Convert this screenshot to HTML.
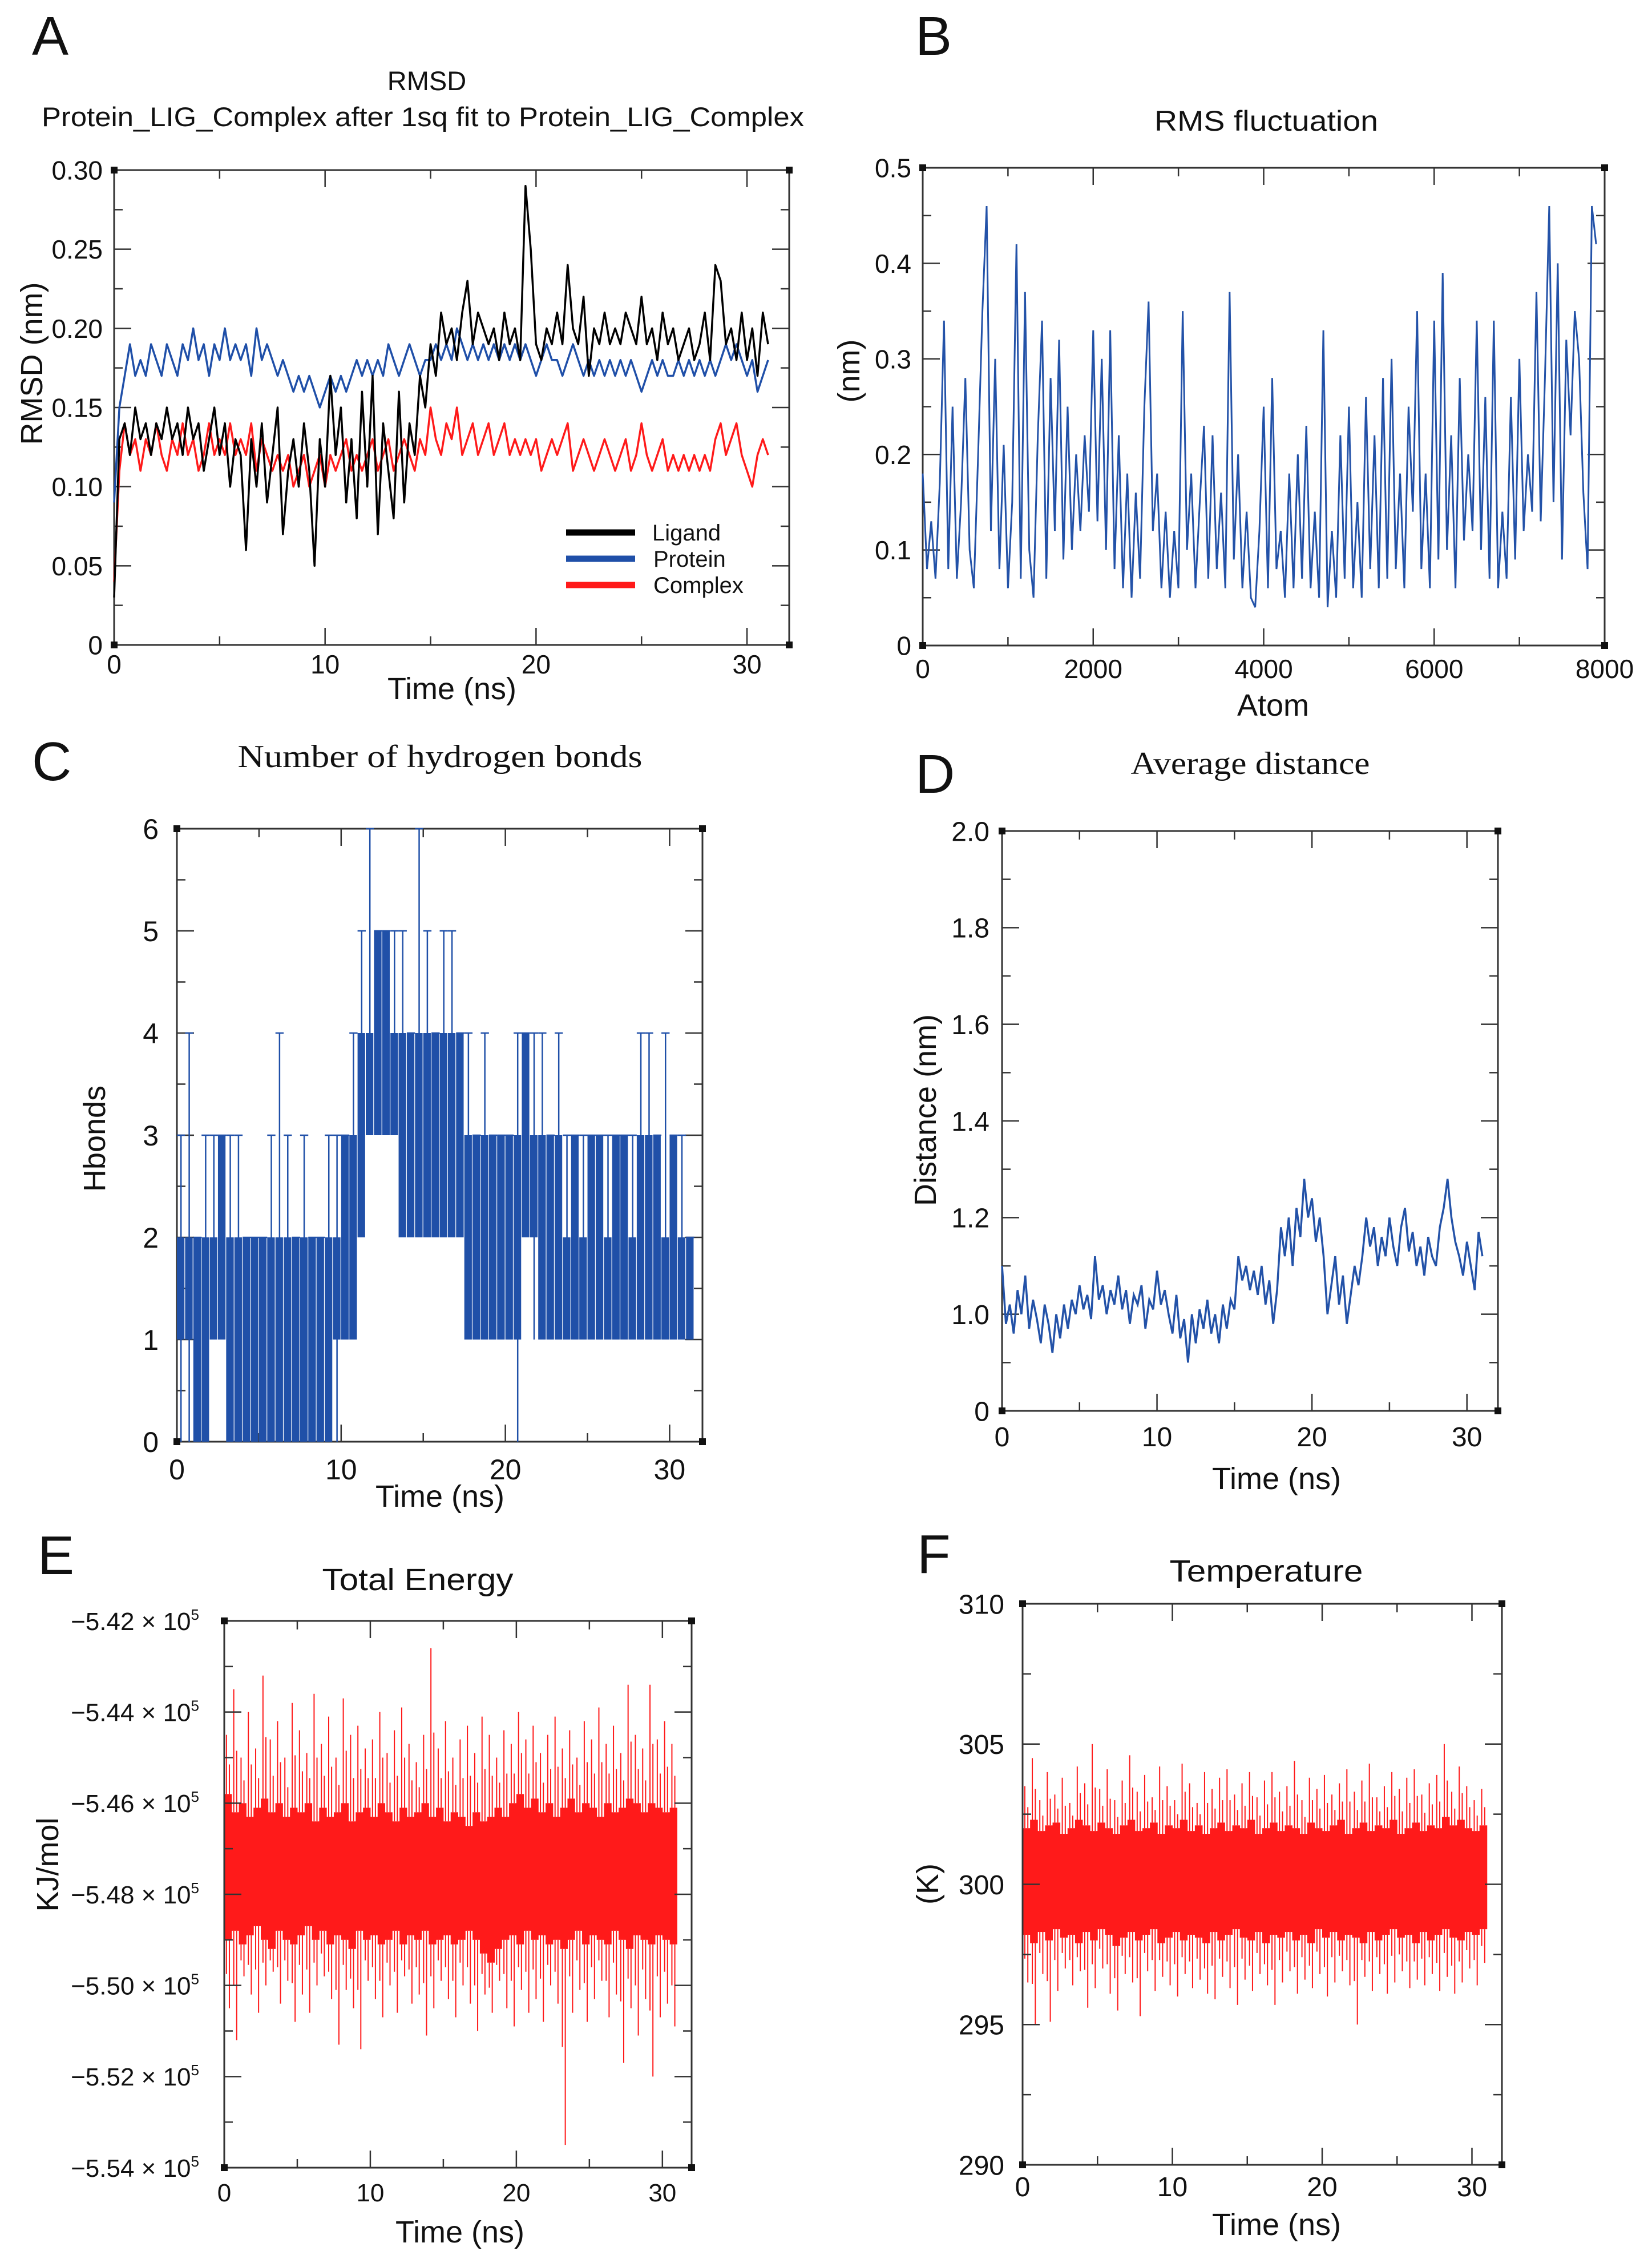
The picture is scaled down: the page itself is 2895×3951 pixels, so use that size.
<!DOCTYPE html>
<html><head><meta charset="utf-8">
<style>
html,body{margin:0;padding:0;background:#fff;}
svg{display:block;}
text{font-family:"Liberation Sans","DejaVu Sans",sans-serif;fill:#111;}
.serif{font-family:"Liberation Serif","DejaVu Serif",serif;}
</style></head>
<body>
<svg id="fig" width="2895" height="3951" viewBox="0 0 2895 3951" xmlns="http://www.w3.org/2000/svg">
  <rect x="0" y="0" width="2895" height="3951" fill="#fff"/>
  <!-- panel letters -->
  <text x="56" y="96" font-size="96">A</text>
  <text x="1604" y="96" font-size="96">B</text>
  <text x="56" y="1367" font-size="96">C</text>
  <text x="1604" y="1389" font-size="96">D</text>
  <text x="66" y="2758" font-size="96">E</text>
  <text x="1607" y="2756" font-size="96">F</text>
  <!-- titles -->
  <text x="748" y="158" font-size="47" text-anchor="middle">RMSD</text>
  <text x="741" y="221" font-size="47" text-anchor="middle" textLength="1336" lengthAdjust="spacingAndGlyphs">Protein_LIG_Complex after 1sq fit to Protein_LIG_Complex</text>
  <text x="2219" y="229" font-size="50" text-anchor="middle" textLength="392" lengthAdjust="spacingAndGlyphs">RMS fluctuation</text>
  <text class="serif" x="771" y="1344" font-size="56" text-anchor="middle" textLength="709" lengthAdjust="spacingAndGlyphs">Number of hydrogen bonds</text>
  <text class="serif" x="2191" y="1356" font-size="56" text-anchor="middle" textLength="419" lengthAdjust="spacingAndGlyphs">Average distance</text>
  <text x="732" y="2786" font-size="54" text-anchor="middle" textLength="335" lengthAdjust="spacingAndGlyphs">Total Energy</text>
  <text x="2219" y="2771" font-size="54" text-anchor="middle" textLength="339" lengthAdjust="spacingAndGlyphs">Temperature</text>
  <!-- axis titles -->
  <text x="792" y="1225" font-size="54" text-anchor="middle">Time (ns)</text>
  <text transform="translate(74,637) rotate(-90)" font-size="54" text-anchor="middle">RMSD (nm)</text>
  <text x="2231" y="1254" font-size="54" text-anchor="middle">Atom</text>
  <text transform="translate(1506,650) rotate(-90)" font-size="54" text-anchor="middle">(nm)</text>
  <text x="771" y="2640" font-size="54" text-anchor="middle">Time (ns)</text>
  <text transform="translate(184,1995) rotate(-90)" font-size="54" text-anchor="middle">Hbonds</text>
  <text x="2237" y="2609" font-size="54" text-anchor="middle">Time (ns)</text>
  <text transform="translate(1640,1945) rotate(-90)" font-size="54" text-anchor="middle">Distance (nm)</text>
  <text x="806" y="3929" font-size="54" text-anchor="middle">Time (ns)</text>
  <text transform="translate(102,3267) rotate(-90)" font-size="54" text-anchor="middle">KJ/mol</text>
  <text x="2237" y="3916" font-size="54" text-anchor="middle">Time (ns)</text>
  <text transform="translate(1644,3301) rotate(-90)" font-size="54" text-anchor="middle">(K)</text>
  <!-- legend A -->
  <g>
    <line x1="992" y1="933" x2="1113" y2="933" stroke="#000" stroke-width="11"/>
    <text x="1143" y="947" font-size="40">Ligand</text>
    <line x1="992" y1="979" x2="1113" y2="979" stroke="#1f4fa8" stroke-width="11"/>
    <text x="1145" y="993" font-size="40">Protein</text>
    <line x1="992" y1="1025" x2="1113" y2="1025" stroke="#ff1a1a" stroke-width="11"/>
    <text x="1145" y="1039" font-size="40">Complex</text>
  </g>
</svg>
<script>
// ---------- Panel A: RMSD (t step 0.25 ns) ----------
const rmsdTimeStep = 0.25;
const ligandRmsd = [0.03,0.13,0.14,0.12,0.15,0.13,0.14,0.12,0.14,0.13,0.15,0.13,
0.14,0.12,0.15,0.13,0.14,0.11,0.13,0.15,0.12,0.14,0.10,0.13,
0.12,0.06,0.13,0.10,0.14,0.09,0.12,0.15,0.07,0.11,0.13,0.10,
0.14,0.11,0.05,0.13,0.10,0.17,0.12,0.15,0.09,0.13,0.08,0.16,
0.10,0.17,0.07,0.14,0.11,0.08,0.16,0.09,0.14,0.12,0.17,0.15,
0.19,0.17,0.21,0.19,0.20,0.18,0.21,0.23,0.19,0.21,0.20,0.19,
0.20,0.18,0.21,0.19,0.20,0.18,0.29,0.25,0.19,0.18,0.20,0.19,
0.21,0.19,0.24,0.20,0.19,0.22,0.17,0.20,0.19,0.21,0.19,0.20,
0.19,0.21,0.20,0.19,0.22,0.19,0.20,0.18,0.21,0.19,0.20,0.18,
0.19,0.20,0.18,0.19,0.21,0.18,0.24,0.23,0.19,0.20,0.18,0.21,
0.18,0.20,0.17,0.21,0.19];
const proteinRmsd = [0.09,0.15,0.17,0.19,0.17,0.18,0.17,0.19,0.18,0.17,0.19,0.18,
0.17,0.19,0.18,0.20,0.18,0.19,0.17,0.19,0.18,0.20,0.18,0.19,
0.18,0.19,0.17,0.20,0.18,0.19,0.18,0.17,0.18,0.17,0.16,0.17,
0.16,0.17,0.16,0.15,0.16,0.17,0.16,0.17,0.16,0.17,0.18,0.17,
0.18,0.17,0.18,0.17,0.19,0.18,0.17,0.18,0.19,0.18,0.17,0.18,
0.18,0.19,0.18,0.19,0.18,0.20,0.19,0.18,0.19,0.18,0.19,0.18,
0.19,0.18,0.19,0.18,0.19,0.18,0.19,0.18,0.17,0.18,0.19,0.18,
0.18,0.17,0.18,0.19,0.18,0.17,0.18,0.17,0.18,0.17,0.18,0.17,
0.18,0.17,0.18,0.17,0.16,0.17,0.18,0.17,0.18,0.17,0.17,0.18,
0.17,0.18,0.17,0.18,0.17,0.18,0.17,0.18,0.19,0.18,0.19,0.18,
0.17,0.18,0.16,0.17,0.18];
const complexRmsd = [0.04,0.11,0.14,0.12,0.13,0.11,0.13,0.12,0.14,0.12,0.11,0.13,
0.12,0.14,0.12,0.13,0.11,0.12,0.14,0.12,0.13,0.12,0.14,0.12,
0.13,0.12,0.14,0.11,0.13,0.12,0.11,0.12,0.11,0.12,0.10,0.11,
0.12,0.10,0.11,0.12,0.10,0.12,0.11,0.12,0.13,0.11,0.12,0.11,
0.12,0.13,0.11,0.12,0.13,0.11,0.12,0.13,0.12,0.11,0.13,0.12,
0.15,0.13,0.12,0.14,0.13,0.15,0.12,0.13,0.14,0.12,0.13,0.14,
0.12,0.13,0.14,0.12,0.13,0.12,0.13,0.12,0.13,0.11,0.12,0.13,
0.12,0.13,0.14,0.11,0.12,0.13,0.12,0.11,0.12,0.13,0.12,0.11,
0.12,0.13,0.11,0.12,0.14,0.12,0.11,0.12,0.13,0.11,0.12,0.11,
0.12,0.11,0.12,0.11,0.12,0.11,0.13,0.14,0.12,0.13,0.14,0.12,
0.11,0.10,0.12,0.13,0.12];
const rmsdYTicks = [0,0.05,0.10,0.15,0.20,0.25,0.30];
const rmsdYLabels = ["0","0.05","0.10","0.15","0.20","0.25","0.30"];
const timeXTicks = [0,10,20,30];
const timeXLabels = ["0","10","20","30"];

// ---------- Panel B: RMSF (atom step 50) ----------
const rmsfAtomStep = 50;
const rmsfValues = [0.18,0.08,0.13,0.07,0.17,0.34,0.08,0.25,0.07,0.15,0.28,0.10,0.06,0.20,0.35,0.46,0.12,0.30,0.08,0.21,
0.06,0.15,0.42,0.07,0.37,0.10,0.05,0.22,0.34,0.07,0.28,0.12,0.32,0.09,0.25,0.10,0.20,0.12,0.22,0.14,
0.33,0.13,0.30,0.10,0.33,0.08,0.22,0.06,0.18,0.05,0.16,0.07,0.25,0.36,0.12,0.18,0.06,0.14,0.05,0.12,
0.06,0.35,0.10,0.18,0.06,0.15,0.23,0.07,0.22,0.08,0.16,0.06,0.37,0.09,0.20,0.06,0.14,0.05,0.04,0.12,
0.25,0.06,0.28,0.08,0.12,0.05,0.18,0.06,0.20,0.07,0.23,0.06,0.14,0.05,0.33,0.04,0.12,0.05,0.22,0.07,
0.25,0.06,0.15,0.05,0.26,0.08,0.22,0.06,0.28,0.07,0.30,0.08,0.18,0.06,0.25,0.14,0.35,0.08,0.18,0.06,
0.34,0.09,0.39,0.10,0.22,0.06,0.28,0.11,0.20,0.12,0.34,0.10,0.26,0.07,0.34,0.06,0.14,0.07,0.26,0.09,
0.30,0.12,0.20,0.14,0.37,0.13,0.28,0.46,0.15,0.40,0.09,0.32,0.22,0.35,0.30,0.16,0.08,0.46,0.42];
const rmsfYTicks = [0,0.1,0.2,0.3,0.4,0.5];
const rmsfYLabels = ["0","0.1","0.2","0.3","0.4","0.5"];
const atomXTicks = [0,2000,4000,6000,8000];
const atomXLabels = ["0","2000","4000","6000","8000"];

// ---------- Panel C: H-bonds (bins of 0.5 ns) ----------
const hbBinWidth = 0.5;
const hbLo  = [1,1,0,0,1,1,0,0,0,0,0,0,0,0,0,0,0,0,0,1,1,1,2,3,3,3,3,2,2,2,2,2,2,2,2,1,1,1,1,1,1,1,2,2,1,1,1,1,1,1,1,1,1,1,1,1,1,1,1,1,1,1,1];
const hbHi  = [2,2,2,2,2,3,2,2,2,2,2,2,2,2,2,2,2,2,2,2,3,3,4,4,5,5,4,4,4,4,4,4,4,4,4,3,3,3,3,3,3,3,4,3,3,3,3,2,3,2,3,3,2,3,3,2,3,3,3,2,3,2,2];
const hbMax = [3,4,2,3,3,3,3,3,2,2,2,3,4,3,2,3,2,2,3,3,3,4,5,6,5,5,5,5,4,6,5,4,5,5,4,4,3,4,3,3,3,4,4,4,4,3,4,3,3,3,3,3,3,3,3,3,4,4,3,4,3,3,2];
const hbMin = [0,0,0,0,1,1,0,0,0,0,0,0,0,0,0,0,0,0,0,0,1,1,2,3,3,3,3,2,2,2,2,2,2,2,2,1,1,1,1,1,1,0,2,1,1,1,1,1,1,1,1,1,1,1,1,1,1,1,1,1,1,1,1];
const hbYTicks = [0,1,2,3,4,5,6];
const hbYLabels = ["0","1","2","3","4","5","6"];

// ---------- Panel D: distance (t step 0.25 ns) ----------
const distTimeStep = 0.25;
const distanceValues = [1.10,0.98,1.02,0.96,1.05,1.00,1.08,0.97,1.03,0.99,0.94,1.02,
0.98,0.92,1.00,0.95,1.02,0.97,1.03,1.00,1.06,1.01,1.04,0.99,
1.12,1.03,1.06,1.00,1.05,1.02,1.08,1.01,1.05,0.98,1.04,1.02,
1.06,0.97,1.03,1.01,1.09,1.02,1.05,1.00,0.96,1.04,0.95,0.99,
0.90,1.00,0.94,1.01,0.97,1.03,0.96,1.00,0.94,1.02,0.97,1.03,
1.01,1.12,1.07,1.10,1.05,1.09,1.04,1.10,1.02,1.07,0.98,1.05,
1.18,1.12,1.20,1.10,1.22,1.16,1.28,1.20,1.24,1.15,1.20,1.12,
1.00,1.06,1.12,1.02,1.08,0.98,1.04,1.10,1.06,1.12,1.20,1.14,
1.18,1.10,1.16,1.12,1.20,1.14,1.10,1.18,1.22,1.13,1.17,1.10,
1.14,1.08,1.16,1.12,1.10,1.18,1.22,1.28,1.20,1.15,1.12,1.08,
1.15,1.10,1.05,1.17,1.12];
const distYTicks = [0.8,1.0,1.2,1.4,1.6,1.8,2.0];
const distYLabels = ["0","1.0","1.2","1.4","1.6","1.8","2.0"];

// ---------- Panel E: total energy (x10^5 kJ/mol, bins of 0.5 ns) ----------
const energyBinWidth = 0.5;
const energyMax = [-5.445,-5.435,-5.450,-5.440,-5.448,-5.432,-5.446,-5.442,-5.450,-5.438,
-5.444,-5.449,-5.436,-5.447,-5.441,-5.450,-5.437,-5.445,-5.443,-5.448,
-5.446,-5.440,-5.449,-5.444,-5.439,-5.447,-5.451,-5.445,-5.426,-5.448,
-5.442,-5.450,-5.446,-5.443,-5.449,-5.441,-5.445,-5.450,-5.444,-5.447,
-5.440,-5.446,-5.443,-5.449,-5.445,-5.441,-5.448,-5.444,-5.450,-5.442,
-5.446,-5.439,-5.447,-5.443,-5.449,-5.434,-5.445,-5.448,-5.434,-5.446,
-5.442,-5.447];
const energyMin = [-5.505,-5.512,-5.498,-5.502,-5.506,-5.500,-5.497,-5.504,-5.499,-5.508,
-5.502,-5.506,-5.500,-5.498,-5.503,-5.513,-5.501,-5.505,-5.514,-5.499,
-5.503,-5.507,-5.500,-5.506,-5.498,-5.504,-5.502,-5.511,-5.505,-5.499,
-5.503,-5.507,-5.500,-5.504,-5.510,-5.502,-5.506,-5.499,-5.505,-5.509,
-5.501,-5.506,-5.503,-5.508,-5.500,-5.504,-5.535,-5.506,-5.501,-5.508,
-5.503,-5.499,-5.507,-5.502,-5.517,-5.505,-5.511,-5.503,-5.520,-5.507,
-5.504,-5.509];
const energyCoreHi = [-5.458,-5.462,-5.460,-5.463,-5.461,-5.459,-5.462,-5.460,-5.463,-5.461,
-5.462,-5.460,-5.464,-5.461,-5.463,-5.462,-5.460,-5.464,-5.462,-5.461,
-5.463,-5.460,-5.462,-5.464,-5.461,-5.463,-5.462,-5.460,-5.463,-5.461,
-5.464,-5.462,-5.463,-5.465,-5.462,-5.464,-5.463,-5.461,-5.463,-5.460,
-5.458,-5.461,-5.459,-5.462,-5.460,-5.463,-5.461,-5.459,-5.462,-5.460,
-5.461,-5.463,-5.460,-5.462,-5.461,-5.459,-5.460,-5.462,-5.460,-5.461,
-5.462,-5.461];
const energyCoreLo = [-5.490,-5.488,-5.491,-5.489,-5.487,-5.490,-5.492,-5.488,-5.490,-5.491,
-5.489,-5.487,-5.490,-5.488,-5.491,-5.489,-5.490,-5.492,-5.488,-5.490,
-5.489,-5.491,-5.490,-5.488,-5.491,-5.489,-5.490,-5.488,-5.491,-5.490,
-5.489,-5.491,-5.490,-5.488,-5.490,-5.493,-5.495,-5.492,-5.490,-5.489,
-5.491,-5.488,-5.490,-5.489,-5.491,-5.490,-5.492,-5.490,-5.488,-5.491,
-5.489,-5.490,-5.491,-5.488,-5.490,-5.492,-5.489,-5.490,-5.491,-5.489,
-5.490,-5.491];
const energyYTicks = [-5.54,-5.52,-5.50,-5.48,-5.46,-5.44,-5.42];
const energyYLabels = ["\u22125.54","\u22125.52","\u22125.50","\u22125.48","\u22125.46","\u22125.44","\u22125.42"];

// ---------- Panel F: temperature (K, bins of 0.5 ns) ----------
const tempBinWidth = 0.5;
const tempMax = [303.5,304.5,303.0,304.0,303.2,303.8,302.9,304.2,303.6,305.0,
303.4,304.1,303.0,303.7,304.6,303.3,303.9,303.1,304.2,303.5,
303.0,304.3,303.6,302.9,304.0,303.4,303.8,304.1,303.2,303.6,
304.0,303.1,303.7,304.0,303.3,303.5,304.4,303.0,303.8,303.4,
303.9,303.2,303.6,304.1,303.3,303.7,304.3,303.1,303.5,304.0,
303.4,303.8,304.1,303.2,303.6,303.9,305.0,303.3,304.2,303.5,
303.0,303.4];
const tempMin = [296.5,295.0,296.8,295.1,296.2,297.0,296.4,296.9,295.6,296.3,
297.0,296.1,295.5,296.8,296.5,295.3,296.9,296.2,296.7,296.4,
296.0,296.8,296.3,296.6,296.1,295.9,296.7,296.3,295.7,296.6,
296.2,296.8,296.4,295.7,296.5,296.9,296.1,296.6,296.3,296.8,
296.0,296.5,296.9,296.4,295.0,296.7,296.2,296.8,296.1,296.5,
296.9,296.3,296.6,296.4,296.8,296.2,296.7,296.1,296.5,297.0,
296.4,297.2];
const tempCoreHi = [302.0,302.3,301.9,302.1,302.2,301.8,302.0,302.3,302.1,301.9,
302.2,302.0,301.8,302.1,302.3,301.9,302.0,302.2,301.8,302.1,
302.0,302.3,301.9,302.1,301.8,302.0,302.2,301.9,302.1,302.0,
302.3,301.8,302.0,302.2,301.9,302.1,302.0,301.8,302.2,302.0,
301.9,302.1,302.3,301.8,302.0,302.2,301.9,302.1,302.0,302.3,
301.8,302.0,302.2,301.9,302.1,302.0,302.4,302.1,302.3,302.0,
301.9,302.1];
const tempCoreLo = [298.2,297.9,298.3,298.0,298.4,298.1,298.2,297.9,298.3,298.0,
298.4,298.2,297.8,298.1,298.3,298.0,298.2,298.4,297.9,298.1,
298.3,298.0,298.2,298.1,297.9,298.3,298.0,298.2,298.4,298.1,
298.0,298.3,297.9,298.2,298.1,298.3,298.0,298.2,297.9,298.4,
298.1,298.3,298.0,298.2,298.1,297.9,298.3,298.0,298.2,298.4,
298.1,298.2,297.9,298.3,298.0,298.2,298.4,298.1,298.0,298.3,
298.2,298.4];
const tempYTicks = [290,295,300,305,310];
const tempYLabels = ["290","295","300","305","310"];

// ---------- helpers ----------
const NS = "http://www.w3.org/2000/svg";
const svg = document.getElementById("fig");
function mk(tag, attrs, parent) {
  const e = document.createElementNS(NS, tag);
  for (const k in attrs) e.setAttribute(k, attrs[k]);
  (parent || svg).appendChild(e);
  return e;
}
function makeScale(d0, d1, r0, r1) { return v => r0 + (v - d0) / (d1 - d0) * (r1 - r0); }

function drawAxes(p) {
  const g = mk("g", {});
  
  
  const sx = p.sx, sy = p.sy;
  const frame = mk("rect", {x:p.L, y:p.T, width:p.R-p.L, height:p.B-p.T, fill:"none", stroke:"#333", "stroke-width":3}, g);
  
  
  let d = "";
  p.xMinor.forEach(v => { const x = sx(v); d += `M${x},${p.B}v-15M${x},${p.T}v15`; });
  p.yMinor.forEach(v => { const y = sy(v); d += `M${p.L},${y}h15M${p.R},${y}h-15`; });
  p.xTicks.forEach(v => { const x = sx(v); d += `M${x},${p.B}v-30M${x},${p.T}v30`; });
  p.yTicks.forEach(v => { const y = sy(v); d += `M${p.L},${y}h30M${p.R},${y}h-30`; });
  const ticks = mk("path", {d:d, stroke:"#333", "stroke-width":2.5, fill:"none"}, g);
  
  
  [[p.L,p.T],[p.R,p.T],[p.L,p.B],[p.R,p.B]].forEach(c => {
    const r = mk("rect", {x:c[0]-6, y:c[1]-6, width:12, height:12, fill:"#111"}, g);
    
    
  });
  p.xTicks.forEach((v, i) => {
    const t = mk("text", {x:sx(v), y:p.xLabelY, "font-size":p.fs, "text-anchor":"middle"}, g);
    t.textContent = p.xLabels[i];
    
    
  });
  p.yTicks.forEach((v, i) => {
    const t = mk("text", {x:p.L - p.yGap, y:sy(v) + p.fs*0.36, "font-size":p.fs, "text-anchor":"end"}, g);
    t.textContent = p.yLabels[i];
    if (p.sci) {
      const ts = document.createElementNS(NS, "tspan");
      ts.textContent = " \u00d7 10";
      t.appendChild(ts);
      const sup = document.createElementNS(NS, "tspan");
      sup.setAttribute("dy", "-18");
      sup.setAttribute("font-size", "26");
      sup.textContent = "5";
      t.appendChild(sup);
    }
    
    
  });
}
function range(a, b, s) { const r = []; for (let v = a; v <= b + 1e-9; v += s) r.push(+v.toFixed(6)); return r; }
function linePath(xs, ys) { return xs.map((x, i) => (i ? "L" : "M") + x.toFixed(1) + "," + ys[i].toFixed(1)).join(""); }

// ---------- Panel A ----------
(function(){
  const p = {name:"rmsd", L:200, T:298, R:1383, B:1130, fs:46, yGap:20, xLabelY:1180};
  p.sx = makeScale(0, 32, p.L, p.R); p.sy = makeScale(0, 0.3, p.B, p.T);
  p.xTicks = timeXTicks; p.xLabels = timeXLabels; p.xMinor = range(5, 30, 10);
  p.yTicks = rmsdYTicks; p.yLabels = rmsdYLabels; p.yMinor = range(0.025, 0.3, 0.05);
  drawAxes(p);
  const series = [[ligandRmsd, "#000", "ligand"], [proteinRmsd, "#1f4fa8", "protein"], [complexRmsd, "#ff1a1a", "complex"]];
  [2, 1, 0].forEach(k => {
    const s = series[k];
    const xs = s[0].map((v, i) => p.sx(i * rmsdTimeStep));
    const ys = s[0].map(v => p.sy(v));
    const path = mk("path", {d:linePath(xs, ys), stroke:s[1], "stroke-width":3.5, fill:"none", "stroke-linejoin":"round"});
    
    
  });
})();

// ---------- Panel B ----------
(function(){
  const p = {name:"rmsf", L:1617, T:294, R:2812, B:1131, fs:46, yGap:20, xLabelY:1188};
  p.sx = makeScale(0, 8000, p.L, p.R); p.sy = makeScale(0, 0.5, p.B, p.T);
  p.xTicks = atomXTicks; p.xLabels = atomXLabels; p.xMinor = range(1000, 7000, 2000);
  p.yTicks = rmsfYTicks; p.yLabels = rmsfYLabels; p.yMinor = range(0.05, 0.45, 0.1);
  drawAxes(p);
  const xs = rmsfValues.map((v, i) => p.sx(i * rmsfAtomStep));
  const ys = rmsfValues.map(v => p.sy(v));
  const path = mk("path", {d:linePath(xs, ys), stroke:"#2352a8", "stroke-width":3, fill:"none"});
  
  
})();

// ---------- Panel C ----------
(function(){
  const p = {name:"hbonds", L:310, T:1452, R:1231, B:2526, fs:50, yGap:32, xLabelY:2592};
  p.sx = makeScale(0, 32, p.L, p.R); p.sy = makeScale(0, 6, p.B, p.T);
  p.xTicks = timeXTicks; p.xLabels = timeXLabels; p.xMinor = range(5, 30, 10);
  p.yTicks = hbYTicks; p.yLabels = hbYLabels; p.yMinor = range(0.5, 5.5, 1);
  drawAxes(p);
  const g = mk("g", {});
  
  
  hbLo.forEach((lo, i) => {
    const x0 = p.sx(i * hbBinWidth), x1 = p.sx((i + 1) * hbBinWidth);
    const r = mk("rect", {x:x0, y:p.sy(hbHi[i]), width:(x1 - x0) * 0.92, height:p.sy(lo) - p.sy(hbHi[i]), fill:"#2050a8"}, g);
    
    
    const xm = (x0 + x1) / 2;
    const l = mk("line", {x1:xm, x2:xm, y1:p.sy(hbMax[i]), y2:p.sy(hbMin[i]), stroke:"#2050a8", "stroke-width":2.5}, g);
    
    
    const h1 = mk("line", {x1:x0, x2:x1, y1:p.sy(hbMax[i]), y2:p.sy(hbMax[i]), stroke:"#2050a8", "stroke-width":2.5}, g);
    
    
  });
})();

// ---------- Panel D ----------
(function(){
  const p = {name:"distance", L:1756, T:1456, R:2625, B:2472, fs:48, yGap:22, xLabelY:2534};
  p.sx = makeScale(0, 32, p.L, p.R); p.sy = makeScale(0.8, 2.0, p.B, p.T);
  p.xTicks = timeXTicks; p.xLabels = timeXLabels; p.xMinor = range(5, 30, 10);
  p.yTicks = distYTicks; p.yLabels = distYLabels; p.yMinor = range(0.9, 1.9, 0.2);
  drawAxes(p);
  const xs = distanceValues.map((v, i) => p.sx(i * distTimeStep));
  const ys = distanceValues.map(v => p.sy(v));
  const path = mk("path", {d:linePath(xs, ys), stroke:"#2352a8", "stroke-width":3.5, fill:"none"});
  
  
})();

// ---------- band drawer for E and F ----------
function drawBand(p, w, mx, mn, hi, lo, color, nm) {
  const g = mk("g", {});
  
  
  hi.forEach((h, i) => {
    const x0 = p.sx(i * w), x1 = p.sx((i + 1) * w);
    const r = mk("rect", {x:x0, y:p.sy(h), width:x1 - x0 + 0.5, height:p.sy(lo[i]) - p.sy(h), fill:color}, g);
    
    
    const xa = x0 + (x1 - x0) * 0.3, xb = x0 + (x1 - x0) * 0.7;
    const l1 = mk("line", {x1:xa, x2:xa, y1:p.sy(mx[i]), y2:p.sy(h), stroke:color, "stroke-width":2}, g);
    
    
    const l2 = mk("line", {x1:xb, x2:xb, y1:p.sy(lo[i]), y2:p.sy(mn[i]), stroke:color, "stroke-width":2}, g);
    
    
    const ym = (p.sy(mx[i]) + p.sy(h)) / 2, yn = (p.sy(lo[i]) + p.sy(mn[i])) / 2;
    const l3 = mk("line", {x1:xb, x2:xb, y1:ym, y2:p.sy(h), stroke:color, "stroke-width":2}, g);
    
    
    const l4 = mk("line", {x1:xa, x2:xa, y1:p.sy(lo[i]), y2:yn, stroke:color, "stroke-width":2}, g);
    
    
  });
}

// ---------- Panel E ----------
(function(){
  const p = {name:"energy", L:393, T:2840, R:1212, B:3798, fs:44, yGap:44, xLabelY:3857, sci:true};
  p.sx = makeScale(0, 32, p.L, p.R); p.sy = makeScale(-5.54, -5.42, p.B, p.T);
  p.xTicks = timeXTicks; p.xLabels = timeXLabels; p.xMinor = range(5, 30, 10);
  p.yTicks = energyYTicks; p.yLabels = energyYLabels; p.yMinor = range(-5.53, -5.43, 0.02);
  drawBand(p, energyBinWidth, energyMax, energyMin, energyCoreHi, energyCoreLo, "#ff1a1a", "energy");
  drawAxes(p);
})();

// ---------- Panel F ----------
(function(){
  const p = {name:"temperature", L:1792, T:2810, R:2632, B:3793, fs:48, yGap:32, xLabelY:3848};
  p.sx = makeScale(0, 32, p.L, p.R); p.sy = makeScale(290, 310, p.B, p.T);
  p.xTicks = timeXTicks; p.xLabels = timeXLabels; p.xMinor = range(5, 30, 10);
  p.yTicks = tempYTicks; p.yLabels = tempYLabels; p.yMinor = range(292.5, 307.5, 5);
  drawBand(p, tempBinWidth, tempMax, tempMin, tempCoreHi, tempCoreLo, "#ff1a1a", "temperature");
  drawAxes(p);
})();
</script>
</body></html>
